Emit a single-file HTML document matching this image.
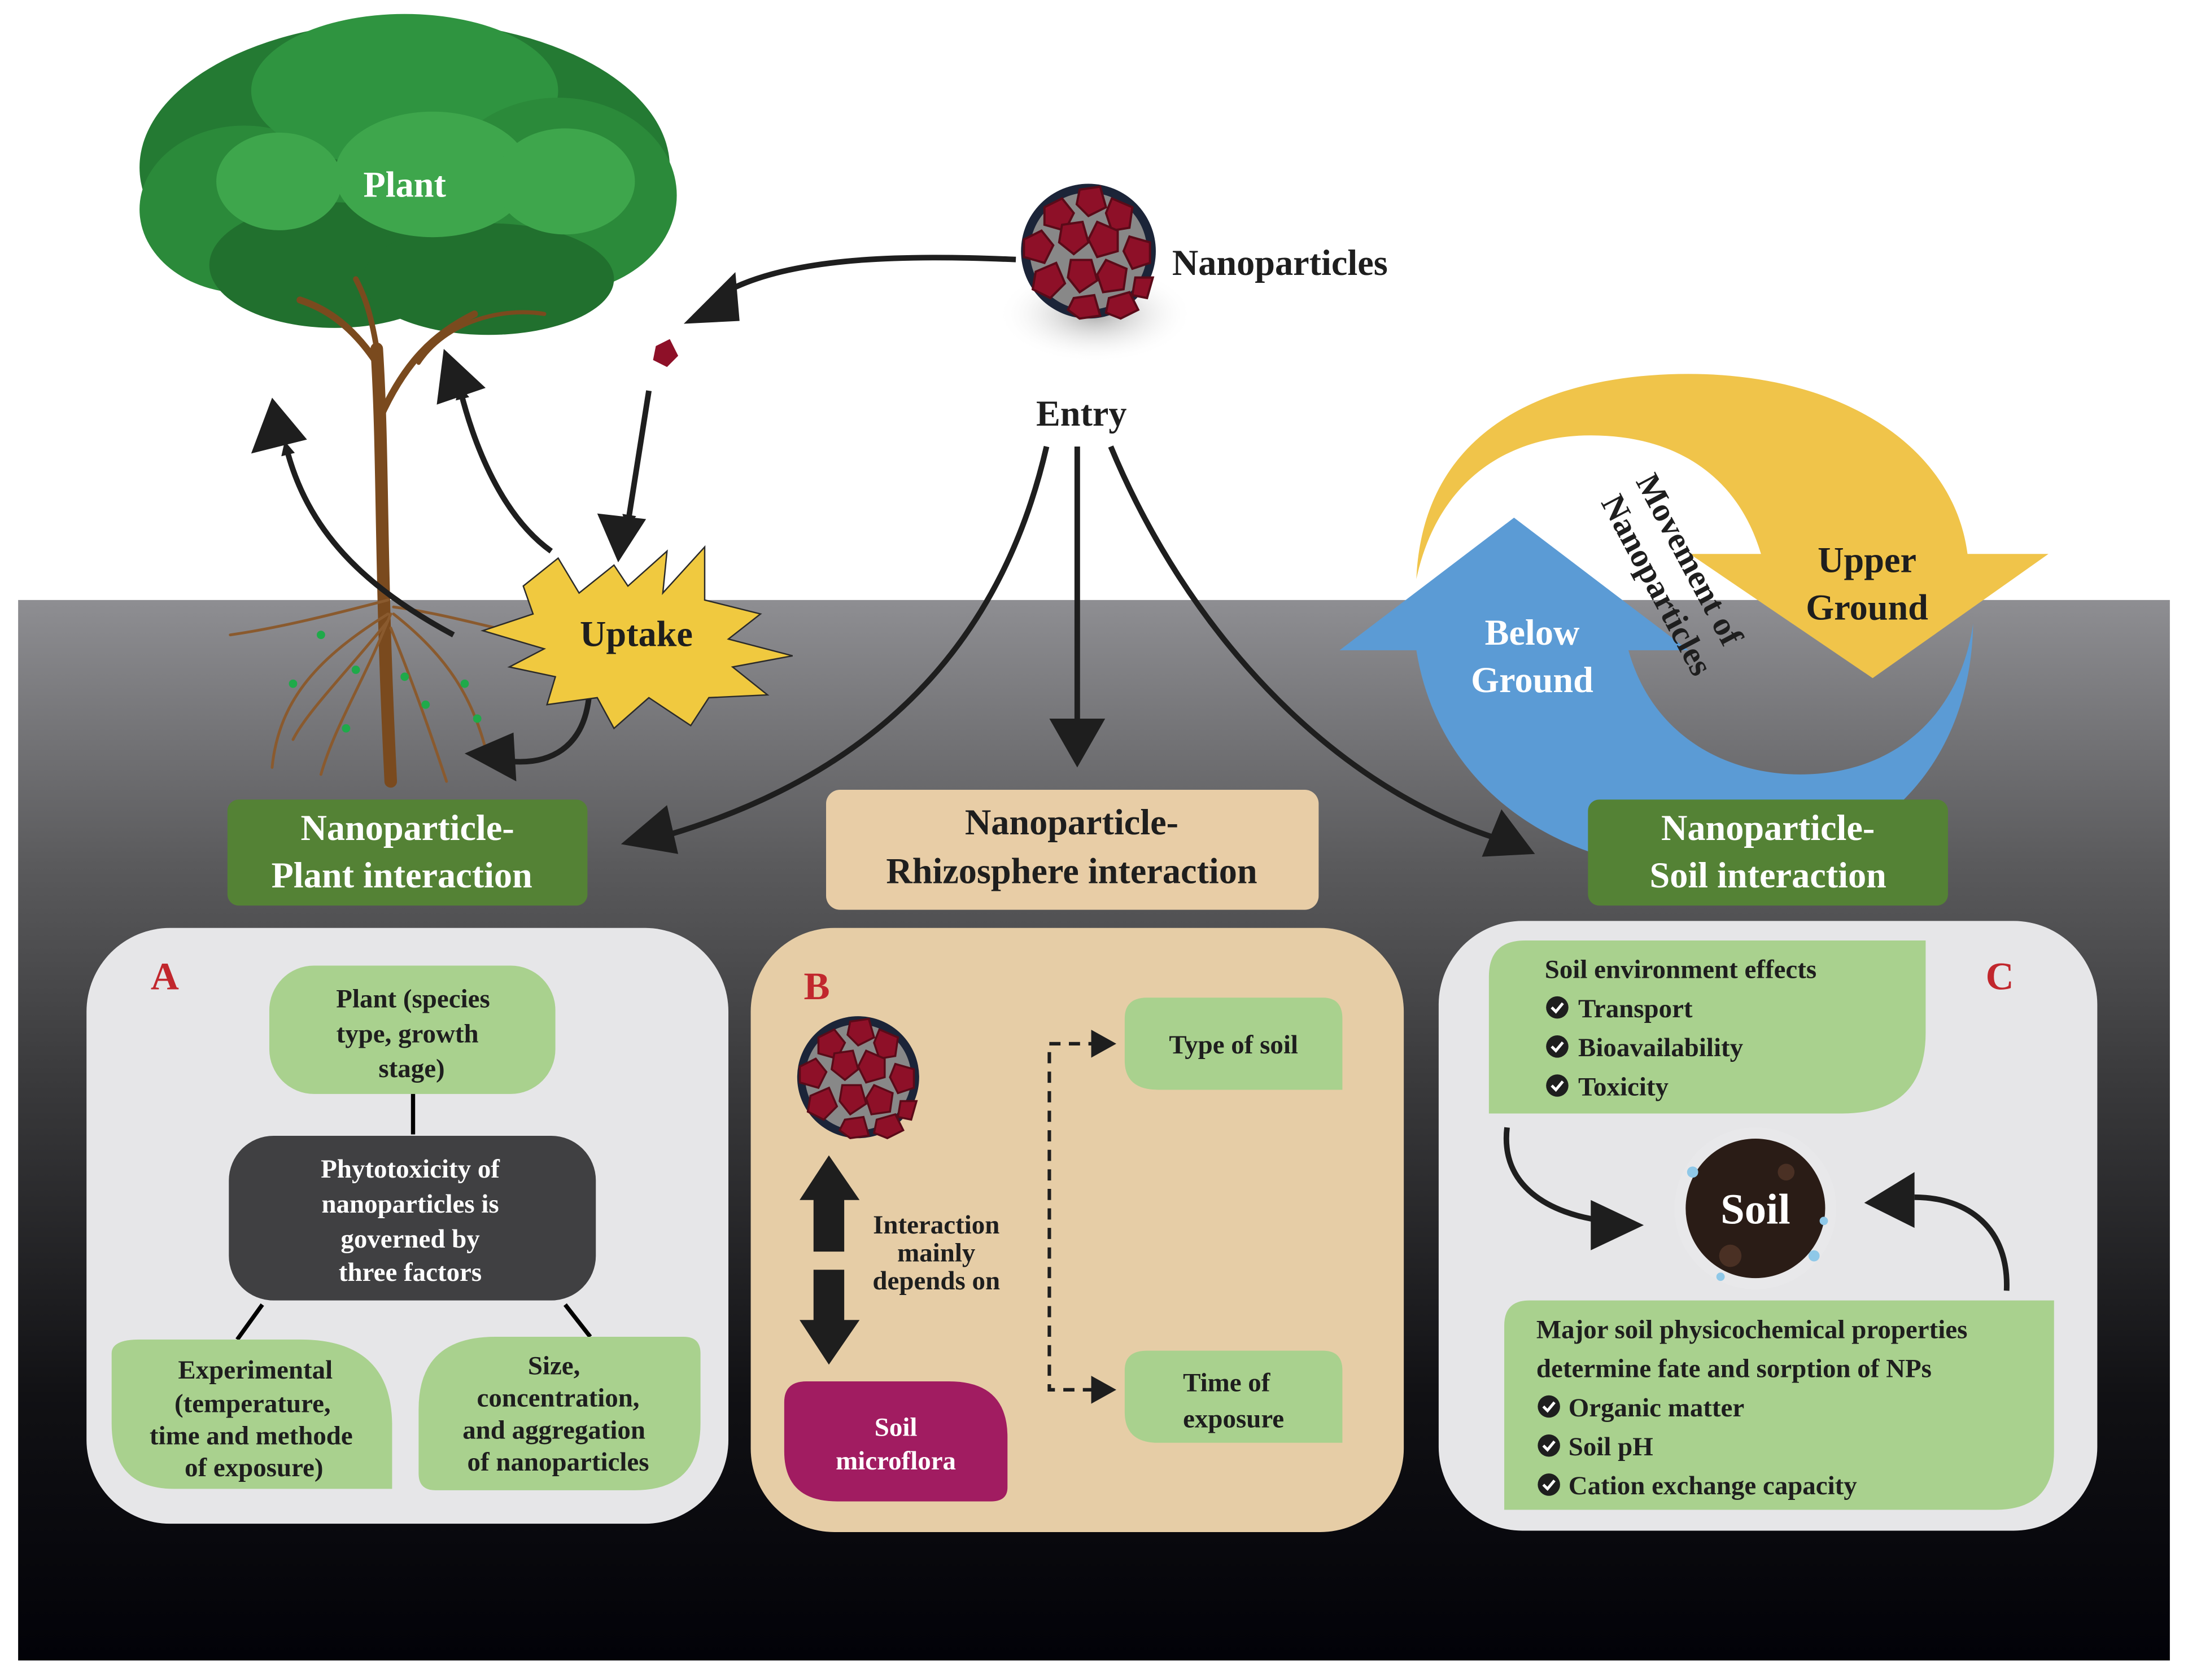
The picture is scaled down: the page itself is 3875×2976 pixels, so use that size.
<!DOCTYPE html>
<html><head><meta charset="utf-8"><style>
html,body{margin:0;padding:0;background:#fff}
svg{display:block}
text{font-family:"Liberation Serif",serif;font-weight:bold}
</style></head><body>
<svg width="3875" height="2976" viewBox="0 0 1568 1204" preserveAspectRatio="none" xmlns="http://www.w3.org/2000/svg">
<defs>
<linearGradient id="bg" x1="0" y1="0" x2="0" y2="1">
<stop offset="0" stop-color="#8e8e92"/><stop offset="0.25" stop-color="#5a5a5c"/><stop offset="0.45" stop-color="#3a3a3c"/><stop offset="0.75" stop-color="#111114"/><stop offset="1" stop-color="#020208"/>
</linearGradient>
<radialGradient id="sh" cx="0.5" cy="0.5" r="0.5"><stop offset="0" stop-color="#aaa"/><stop offset="1" stop-color="#fff" stop-opacity="0"/></radialGradient>
<marker id="ah" markerWidth="10" markerHeight="10" refX="6" refY="5" orient="auto" markerUnits="userSpaceOnUse" viewBox="0 0 10 10"><path d="M0,0 L10,5 L0,10 Z" fill="#1e1e1e"/></marker>
<g id="np">
<circle r="46" fill="#1b2438"/>
<circle r="40" fill="#888"/>
<g fill="#8e1028" stroke="#5a0a18" stroke-width="1.5">
<polygon points="-30,-30 -18,-36 -10,-26 -16,-14 -30,-18"/>
<polygon points="-6,-42 8,-44 12,-30 0,-24 -8,-32"/>
<polygon points="16,-36 30,-30 28,-16 16,-14 12,-26"/>
<polygon points="-44,-8 -32,-14 -24,-4 -30,8 -44,4"/>
<polygon points="-18,-18 -4,-20 0,-6 -10,2 -20,-6"/>
<polygon points="6,-20 20,-14 20,0 6,4 0,-8"/>
<polygon points="28,-10 42,-6 42,8 30,12 24,0"/>
<polygon points="-36,14 -22,8 -16,22 -26,32 -38,26"/>
<polygon points="-12,6 2,6 6,20 -6,28 -14,18"/>
<polygon points="12,6 26,12 24,26 10,28 6,16"/>
<polygon points="-10,32 4,30 8,44 -6,46 -14,40"/>
<polygon points="14,32 28,28 34,40 22,46 12,42"/>
<polygon points="32,18 44,18 40,32 30,30"/>
</g>
</g>
</defs>
<rect width="1568" height="1204" fill="#fff"/>
<rect x="13" y="430" width="1542" height="760" fill="url(#bg)"/>

<!-- tree canopy -->
<g fill="#2f8a3c">
<ellipse cx="290" cy="120" rx="190" ry="105" fill="#247a33"/>
<ellipse cx="175" cy="150" rx="75" ry="60" fill="#2b8a3a"/>
<ellipse cx="290" cy="65" rx="110" ry="55" fill="#2f9440"/>
<ellipse cx="400" cy="140" rx="85" ry="70" fill="#2b8a3a"/>
<ellipse cx="240" cy="190" rx="90" ry="45" fill="#21702e"/>
<ellipse cx="350" cy="200" rx="90" ry="40" fill="#21702e"/>
<ellipse cx="310" cy="125" rx="70" ry="45" fill="#3ea64c"/>
<ellipse cx="200" cy="130" rx="45" ry="35" fill="#3ea64c"/>
<ellipse cx="405" cy="130" rx="50" ry="38" fill="#3ea64c"/>
</g>
<!-- trunk & branches -->
<g stroke="#7a4a1e" fill="none" stroke-linecap="round">
<path d="M270,250 C275,330 272,400 280,560" stroke-width="9"/>
<path d="M270,260 C250,230 230,220 215,215" stroke-width="5"/>
<path d="M272,300 C290,260 310,240 340,225" stroke-width="5"/>
<path d="M270,250 C265,220 260,210 255,200" stroke-width="4"/>
<path d="M300,260 C320,230 360,220 390,225" stroke-width="3"/>
<g stroke-width="2" stroke="#8a5a2e">
<path d="M278,430 C240,440 200,450 165,455"/><path d="M278,440 C230,470 200,500 195,550"/>
<path d="M280,440 C260,490 240,520 230,555"/><path d="M282,440 C320,470 340,500 350,545"/>
<path d="M282,435 C320,440 350,450 380,455"/><path d="M280,450 C300,500 310,530 320,560"/>
<path d="M278,445 C250,480 220,510 210,530"/>
</g>
</g>
<g fill="#1faa4a"><circle cx="210" cy="490" r="3"/><circle cx="255" cy="480" r="3"/><circle cx="290" cy="485" r="3"/><circle cx="333" cy="490" r="3"/><circle cx="248" cy="522" r="3"/><circle cx="305" cy="505" r="3"/><circle cx="342" cy="515" r="3"/><circle cx="230" cy="455" r="3"/></g>
<text x="290" y="141" font-size="26" fill="#fff" text-anchor="middle">Plant</text>

<!-- arrows around plant -->
<g stroke="#1e1e1e" stroke-width="4" fill="none">
<path d="M325,455 C260,420 220,380 205,320" marker-end="url(#ah)"/>
<path d="M395,395 C360,370 340,320 330,280" marker-end="url(#ah)"/>
<path d="M728,186 C640,182 560,185 515,212" marker-end="url(#ah)"/>
<path d="M465,280 L450,375" marker-end="url(#ah)"/>
<path d="M422,500 C418,535 395,550 360,545" marker-end="url(#ah)"/>
</g>
<g fill="#1e1e1e">
<polygon points="195,285 180,325 220,315"/>
<polygon points="318,250 313,290 348,278"/>
<polygon points="490,232 527,195 530,230"/>
<polygon points="443,403 428,368 463,372"/>
<polygon points="333,540 368,525 370,560"/>
</g>
<polygon points="470,248 480,243 486,255 478,263 468,258" fill="#8e1028"/>

<!-- uptake starburst -->
<polygon points="375,420 400,400 415,425 440,405 450,420 478,395 475,425 505,392 505,430 545,440 522,458 568,470 525,478 550,498 508,500 495,520 465,500 440,522 428,500 392,505 398,485 365,478 390,465 346,452 382,440" fill="#f0c93f" stroke="#2a2a2a" stroke-width="1"/>
<text x="456" y="463" font-size="26" fill="#1e1e1e" text-anchor="middle">Uptake</text>

<!-- nanoparticle main -->
<ellipse cx="785" cy="225" rx="70" ry="35" fill="url(#sh)"/>
<use href="#np" transform="translate(780,180) scale(1.05)"/>
<text x="840" y="197" font-size="26" fill="#1e1e1e">Nanoparticles</text>
<text x="775" y="305" font-size="26" fill="#1e1e1e" text-anchor="middle">Entry</text>

<!-- cycle -->
<path d="M1015,415 C1020,300 1120,268 1210,268 C1320,268 1400,320 1410,397 L1468,397 L1342,486 L1211,397 L1262,397 C1245,340 1200,312 1140,312 C1080,312 1030,345 1015,415 Z" fill="#f0c44a"/>
<path d="M960,466 L1085,371 L1210,466 L1167,466 C1185,530 1240,555 1290,555 C1360,555 1405,510 1414,447 C1412,560 1330,625 1230,625 C1110,625 1030,560 1015,466 Z" fill="#5b9bd5"/>
<text x="1098" y="462" font-size="26" fill="#fff" text-anchor="middle">Below</text>
<text x="1098" y="496" font-size="26" fill="#fff" text-anchor="middle">Ground</text>
<text x="1338" y="410" font-size="26" fill="#1e1e1e" text-anchor="middle">Upper</text>
<text x="1338" y="444" font-size="26" fill="#1e1e1e" text-anchor="middle">Ground</text>
<text transform="translate(1172,345) rotate(62)" font-size="24" fill="#1e1e1e" font-weight="normal">Movement of</text>
<text transform="translate(1147,360) rotate(62)" font-size="24" fill="#1e1e1e" font-weight="normal">Nanoparticles</text>

<!-- entry arrows -->
<g stroke="#1e1e1e" stroke-width="4" fill="none">
<path d="M750,320 C720,450 640,550 480,598"/>
<path d="M772,320 L772,520"/>
<path d="M796,320 C850,450 950,560 1070,600"/>
</g>
<g fill="#1e1e1e">
<polygon points="445,605 478,577 486,612"/>
<polygon points="772,550 752,515 792,515"/>
<polygon points="1100,612 1062,614 1076,580"/>
</g>

<!-- label boxes -->
<rect x="163" y="573" width="258" height="76" rx="8" fill="#548235"/>
<text x="292" y="602" font-size="26" fill="#fff" text-anchor="middle">Nanoparticle-</text>
<text x="288" y="636" font-size="26" fill="#fff" text-anchor="middle">Plant interaction</text>
<rect x="592" y="566" width="353" height="86" rx="10" fill="#e8cda6"/>
<text x="768" y="598" font-size="26" fill="#1e1e1e" text-anchor="middle">Nanoparticle-</text>
<text x="768" y="633" font-size="26" fill="#1e1e1e" text-anchor="middle">Rhizosphere interaction</text>
<rect x="1138" y="573" width="258" height="76" rx="8" fill="#548235"/>
<text x="1267" y="602" font-size="26" fill="#fff" text-anchor="middle">Nanoparticle-</text>
<text x="1267" y="636" font-size="26" fill="#fff" text-anchor="middle">Soil interaction</text>

<!-- Panel A -->
<rect x="62" y="665" width="460" height="427" rx="60" fill="#e6e6e8"/>
<text x="108" y="709" font-size="28" fill="#c1272d">A</text>
<rect x="193" y="692" width="205" height="92" rx="32" fill="#a9d18e"/>
<text font-size="19" fill="#1e1e1e" text-anchor="middle"><tspan x="296" y="722">Plant (species</tspan><tspan x="292" y="747">type, growth</tspan><tspan x="295" y="772">stage)</tspan></text>
<line x1="296" y1="784" x2="296" y2="813" stroke="#000" stroke-width="3"/>
<rect x="164" y="814" width="263" height="118" rx="32" fill="#404042"/>
<text font-size="19" fill="#fff" text-anchor="middle"><tspan x="294" y="844">Phytotoxicity of</tspan><tspan x="294" y="869">nanoparticles is</tspan><tspan x="294" y="894">governed by</tspan><tspan x="294" y="918">three factors</tspan></text>
<line x1="188" y1="935" x2="170" y2="960" stroke="#000" stroke-width="3"/>
<line x1="405" y1="935" x2="423" y2="958" stroke="#000" stroke-width="3"/>
<path d="M80,970 Q80,960 100,960 L215,960 Q280,960 281,1020 L281,1067 L125,1067 Q80,1067 80,1020 Z" fill="#a9d18e"/>
<text font-size="19" fill="#1e1e1e" text-anchor="middle"><tspan x="183" y="988">Experimental</tspan><tspan x="181" y="1012">(temperature,</tspan><tspan x="180" y="1035">time and methode</tspan><tspan x="182" y="1058">of exposure)</tspan></text>
<path d="M300,1010 Q300,958 355,958 L490,958 Q502,958 502,970 L502,1020 Q502,1068 455,1068 L312,1068 Q300,1068 300,1056 Z" fill="#a9d18e"/>
<text font-size="19" fill="#1e1e1e" text-anchor="middle"><tspan x="397" y="985">Size,</tspan><tspan x="400" y="1008">concentration,</tspan><tspan x="397" y="1031">and aggregation</tspan><tspan x="400" y="1054">of nanoparticles</tspan></text>

<!-- Panel B -->
<rect x="538" y="665" width="468" height="433" rx="60" fill="#e6cda6"/>
<text x="576" y="716" font-size="28" fill="#c1272d">B</text>
<use href="#np" transform="translate(615,772) scale(0.95)"/>
<polygon points="594,828 573,860 583,860 583,897 605,897 605,860 616,860" fill="#1e1e1e"/>
<polygon points="583,910 605,910 605,946 616,946 594,978 573,946 583,946" fill="#1e1e1e"/>
<text font-size="19" fill="#1e1e1e" text-anchor="middle"><tspan x="671" y="884">Interaction</tspan><tspan x="671" y="904">mainly</tspan><tspan x="671" y="924">depends on</tspan></text>
<path d="M562,1005 Q562,990 578,990 L680,990 Q722,990 722,1030 L722,1066 Q722,1076 710,1076 L600,1076 Q562,1076 562,1040 Z" fill="#a11c61"/>
<text font-size="19" fill="#fff" text-anchor="middle"><tspan x="642" y="1029">Soil</tspan><tspan x="642" y="1053">microflora</tspan></text>
<path d="M760,748 L752,748 L752,996 L788,996 M752,748 L788,748" stroke="#1e1e1e" stroke-width="2.5" stroke-dasharray="8,6" fill="none"/>
<polygon points="800,748 782,738 782,758" fill="#1e1e1e"/>
<polygon points="800,996 782,986 782,1006" fill="#1e1e1e"/>
<path d="M806,730 Q806,715 822,715 L948,715 Q962,715 962,730 L962,781 L830,781 Q806,781 806,760 Z" fill="#a9d18e"/>
<text x="884" y="755" font-size="19" fill="#1e1e1e" text-anchor="middle">Type of soil</text>
<path d="M806,982 Q806,968 822,968 L948,968 Q962,968 962,982 L962,1034 L830,1034 Q806,1034 806,1012 Z" fill="#a9d18e"/>
<text font-size="19" fill="#1e1e1e" text-anchor="middle"><tspan x="879" y="997">Time of</tspan><tspan x="884" y="1023">exposure</tspan></text>

<!-- Panel C -->
<rect x="1031" y="660" width="472" height="437" rx="60" fill="#e6e6e8"/>
<text x="1423" y="709" font-size="28" fill="#c1272d">C</text>
<path d="M1067,700 Q1067,674 1093,674 L1380,674 L1380,740 Q1380,798 1320,798 L1067,798 Z" fill="#a9d18e"/>
<text x="1107" y="701" font-size="19" fill="#1e1e1e">Soil environment effects</text>
<g font-size="19" fill="#1e1e1e">
<text x="1131" y="729">Transport</text><text x="1131" y="757">Bioavailability</text><text x="1131" y="785">Toxicity</text>
</g>
<g fill="#1e1e1e"><circle cx="1116" cy="722" r="8"/><circle cx="1116" cy="750" r="8"/><circle cx="1116" cy="778" r="8"/></g>
<g stroke="#fff" stroke-width="2" fill="none"><path d="M1112,722 l3,3 l5,-6"/><path d="M1112,750 l3,3 l5,-6"/><path d="M1112,778 l3,3 l5,-6"/></g>
<g stroke="#1e1e1e" stroke-width="4" fill="none">
<path d="M1080,808 C1075,850 1110,870 1150,875"/>
<path d="M1438,925 C1440,880 1410,858 1372,858"/>
</g>
<polygon points="1178,878 1140,860 1140,896" fill="#1e1e1e"/>
<polygon points="1336,862 1372,840 1372,880" fill="#1e1e1e"/>
<circle cx="1258" cy="866" r="58" fill="#fff" opacity="0.1"/>
<circle cx="1258" cy="866" r="50" fill="#2a1c16"/>
<circle cx="1240" cy="900" r="8" fill="#4a3024"/><circle cx="1280" cy="840" r="6" fill="#4a3024"/>
<g fill="#8fc8e8"><circle cx="1213" cy="840" r="4"/><circle cx="1300" cy="900" r="4"/><circle cx="1233" cy="915" r="3"/><circle cx="1307" cy="875" r="3"/></g>
<text x="1258" y="877" font-size="31" fill="#fff" text-anchor="middle">Soil</text>
<path d="M1078,950 Q1078,932 1096,932 L1472,932 L1472,1040 Q1472,1082 1430,1082 L1078,1082 Z" fill="#a9d18e"/>
<g font-size="19" fill="#1e1e1e">
<text x="1101" y="959">Major soil physicochemical properties</text>
<text x="1101" y="987">determine fate and sorption of NPs</text>
<text x="1124" y="1015">Organic matter</text><text x="1124" y="1043">Soil pH</text><text x="1124" y="1071">Cation exchange capacity</text>
</g>
<g fill="#1e1e1e"><circle cx="1110" cy="1008" r="8"/><circle cx="1110" cy="1036" r="8"/><circle cx="1110" cy="1064" r="8"/></g>
<g stroke="#fff" stroke-width="2" fill="none"><path d="M1106,1008 l3,3 l5,-6"/><path d="M1106,1036 l3,3 l5,-6"/><path d="M1106,1064 l3,3 l5,-6"/></g>
</svg>
</body></html>
